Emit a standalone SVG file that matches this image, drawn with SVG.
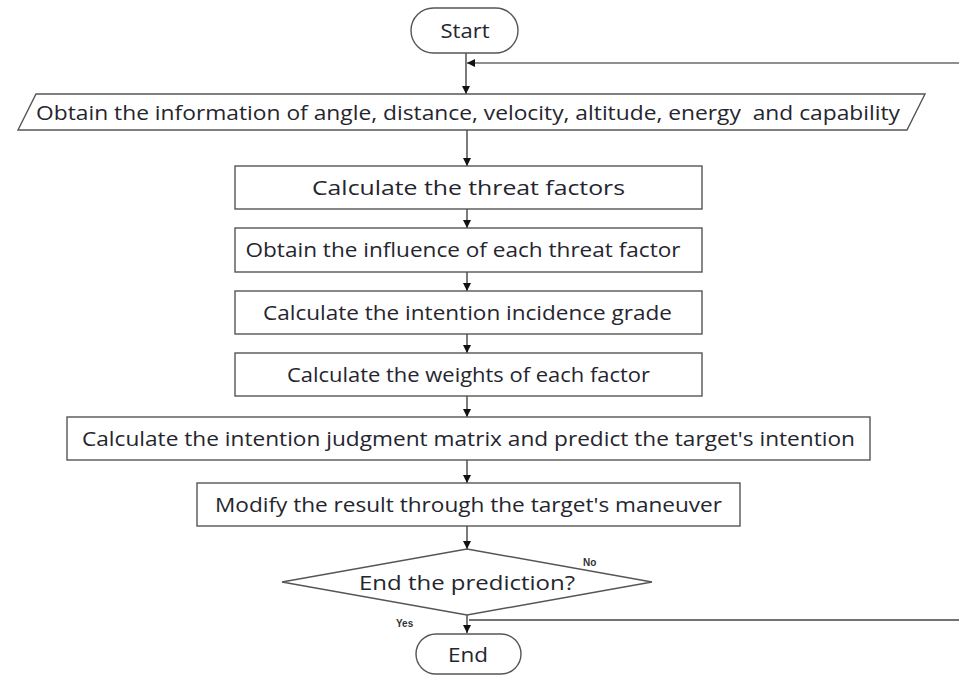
<svg xmlns="http://www.w3.org/2000/svg" width="959" height="676" viewBox="0 0 959 676">
<defs>
<marker id="ah" viewBox="0 0 10 10" refX="10" refY="5" markerWidth="8" markerHeight="8" markerUnits="userSpaceOnUse" orient="auto">
<path d="M0,0 L10,5 L0,10 z" fill="#111"/>
</marker>
<style>
.shape{fill:#fff;stroke:#555;stroke-width:1.4}
.t{font-family:"Open Sans","Liberation Sans",sans-serif;font-size:20.5px;fill:#25252e;text-anchor:middle}
.s{font-family:"Liberation Sans",sans-serif;font-size:10px;font-weight:bold;fill:#333}
.c{fill:none;stroke:#444;stroke-width:1.3}
.ca{fill:none;stroke:#222;stroke-width:1.2;marker-end:url(#ah)}
</style>
</defs>
<rect width="959" height="676" fill="#fff"/>
<g id="connectors">
<line class="ca" x1="466" y1="53" x2="466" y2="94"/>
<line class="ca" x1="959" y1="63" x2="467" y2="63"/>
<line class="ca" x1="467" y1="130" x2="467" y2="166"/>
<line class="ca" x1="467" y1="209" x2="467" y2="228"/>
<line class="ca" x1="467" y1="272" x2="467" y2="291"/>
<line class="ca" x1="467" y1="334" x2="467" y2="353"/>
<line class="ca" x1="467" y1="396" x2="467" y2="417"/>
<line class="ca" x1="467" y1="460" x2="467" y2="483"/>
<line class="ca" x1="467" y1="526" x2="467" y2="549"/>
<line class="ca" x1="467" y1="615" x2="467" y2="633"/>
<line class="c" x1="469" y1="620" x2="959" y2="620"/>
<text class="s" x="583" y="566">No</text>
<text class="s" x="396" y="627">Yes</text>
</g>
<g id="start">
<rect class="shape" x="411" y="8" width="107" height="45" rx="22.5"/>
<text class="t" x="465" y="38" textLength="49" lengthAdjust="spacingAndGlyphs">Start</text>
</g>
<g id="obtain-info">
<polygon class="shape" points="36,94 925,94 907,130 18,130"/>
<text class="t" x="468" y="120" textLength="864" lengthAdjust="spacingAndGlyphs" xml:space="preserve">Obtain the information of angle, distance, velocity, altitude, energy  and capability</text>
</g>
<g id="threat-factors">
<rect class="shape" x="235" y="166" width="467" height="43"/>
<text class="t" x="468.5" y="195" textLength="313" lengthAdjust="spacingAndGlyphs">Calculate the threat factors</text>
</g>
<g id="influence">
<rect class="shape" x="235" y="228" width="467" height="44"/>
<text class="t" x="463" y="257" textLength="435" lengthAdjust="spacingAndGlyphs">Obtain the influence of each threat factor</text>
</g>
<g id="incidence">
<rect class="shape" x="235" y="291" width="467" height="43"/>
<text class="t" x="467.5" y="320" textLength="409" lengthAdjust="spacingAndGlyphs">Calculate the intention incidence grade</text>
</g>
<g id="weights">
<rect class="shape" x="235" y="353" width="467" height="43"/>
<text class="t" x="468.5" y="382" textLength="363" lengthAdjust="spacingAndGlyphs">Calculate the weights of each factor</text>
</g>
<g id="judgment">
<rect class="shape" x="67" y="417" width="803" height="43"/>
<text class="t" x="468.5" y="446" textLength="773" lengthAdjust="spacingAndGlyphs">Calculate the intention judgment matrix and predict the target's intention</text>
</g>
<g id="modify">
<rect class="shape" x="197" y="483" width="543" height="43"/>
<text class="t" x="468.5" y="512" textLength="507" lengthAdjust="spacingAndGlyphs">Modify the result through the target's maneuver</text>
</g>
<g id="decision">
<polygon class="shape" points="467,549 652,582 467,615 282,582"/>
<text class="t" x="467" y="590" textLength="216" lengthAdjust="spacingAndGlyphs">End the prediction?</text>
</g>
<g id="end">
<rect class="shape" x="416" y="634" width="105" height="40" rx="20"/>
<text class="t" x="468" y="662" textLength="40" lengthAdjust="spacingAndGlyphs">End</text>
</g>
</svg>
